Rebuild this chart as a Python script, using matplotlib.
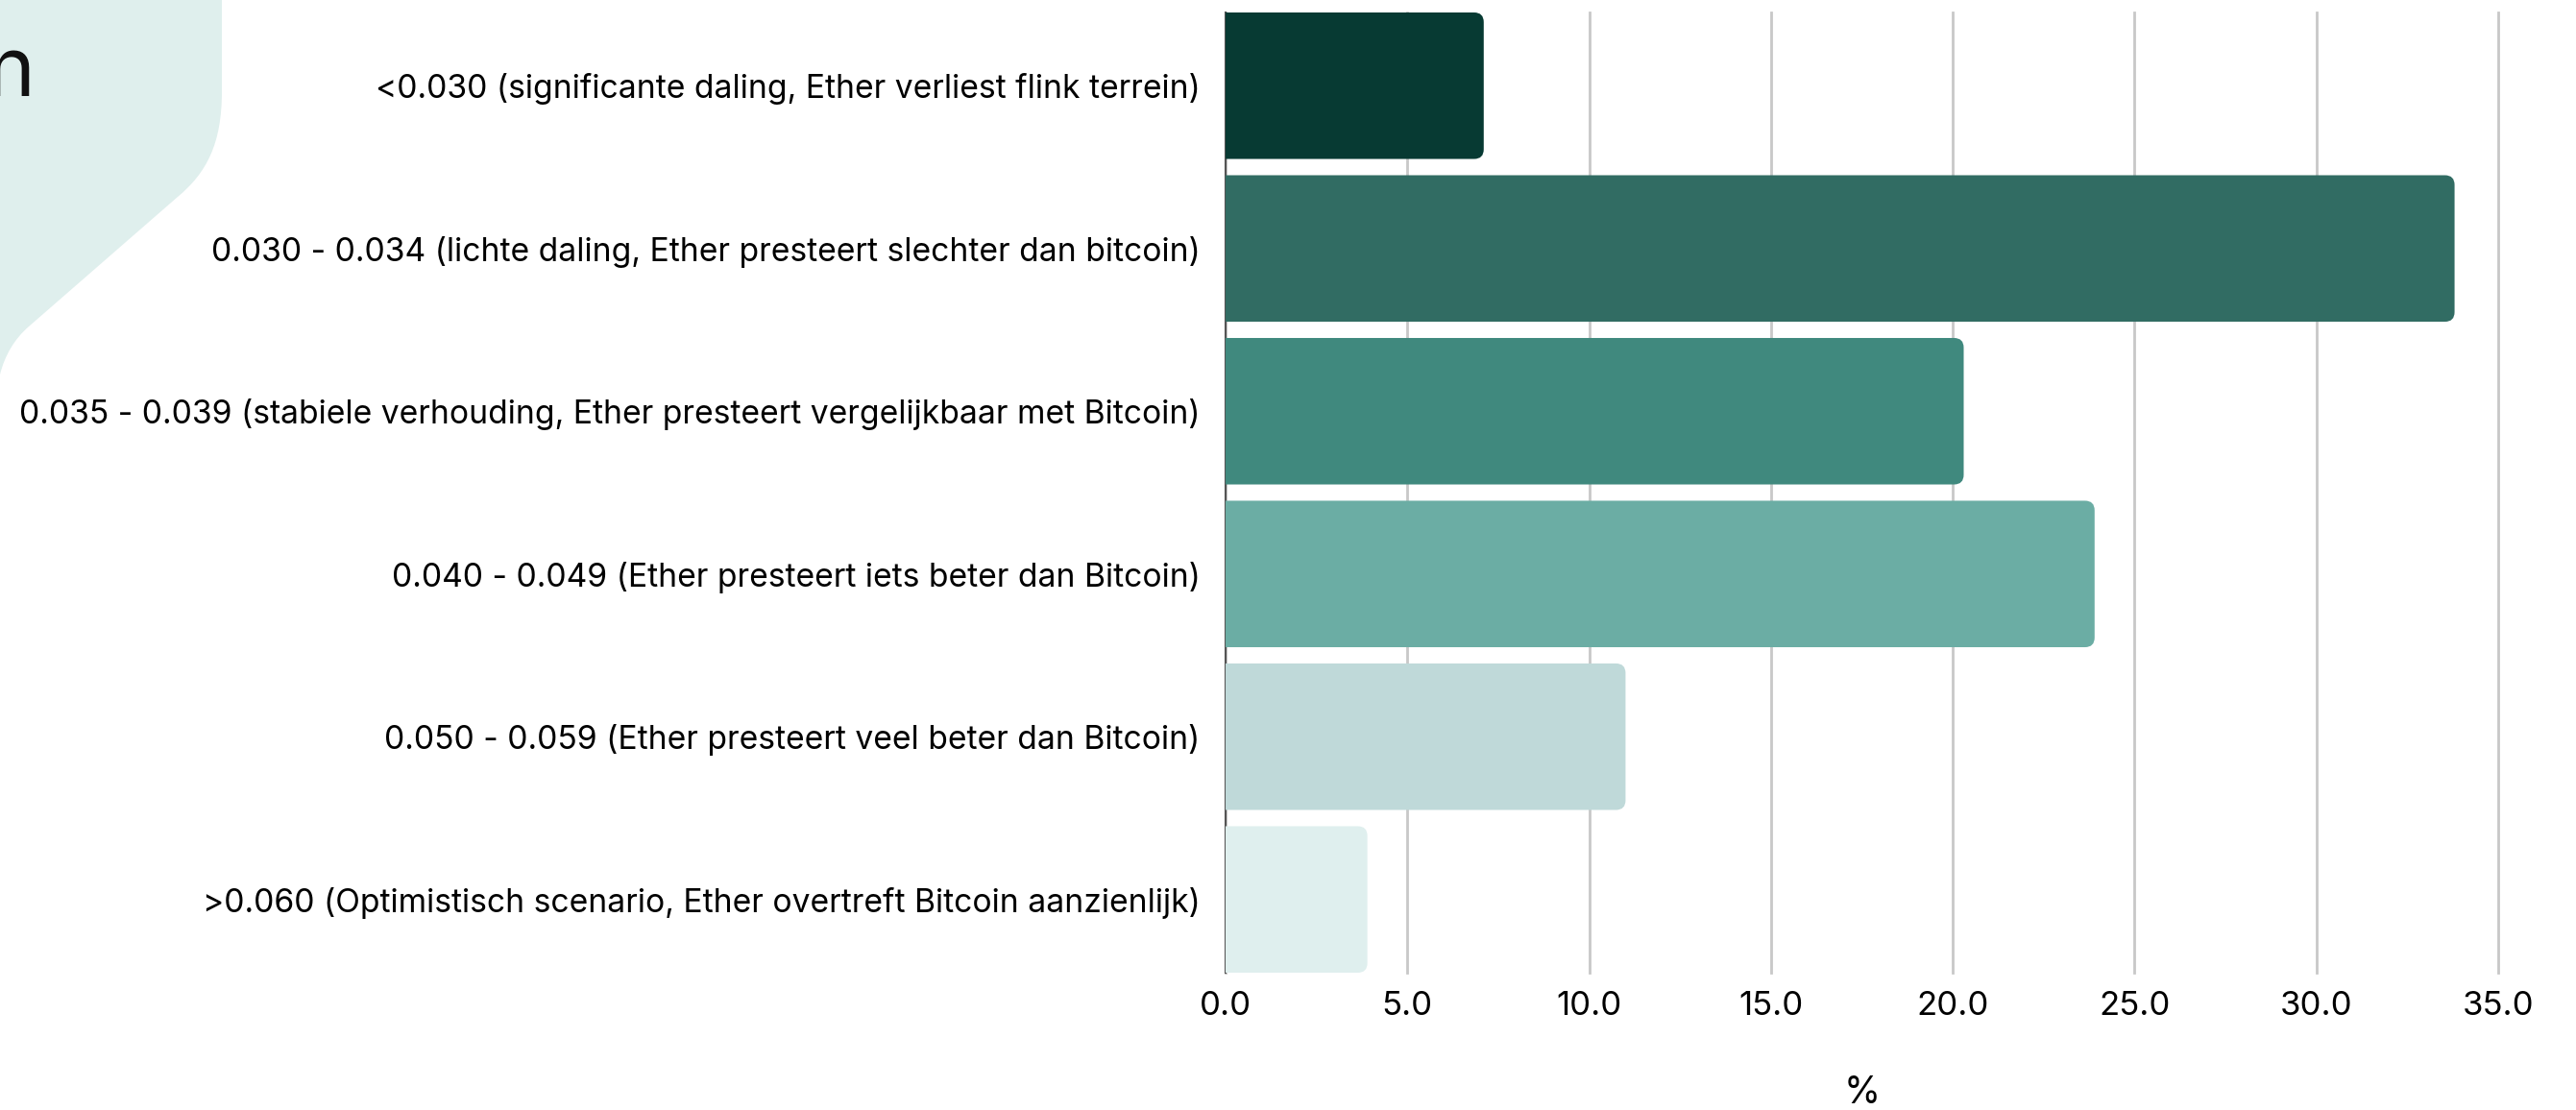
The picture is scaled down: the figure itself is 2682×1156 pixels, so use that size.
import matplotlib
matplotlib.use("Agg")
import matplotlib.pyplot as plt
from matplotlib.patches import FancyBboxPatch, PathPatch
from matplotlib.path import Path

plt.rcParams["font.family"] = ["Inter", "DejaVu Sans"]

# data
categories = [
    "<0.030 (significante daling, Ether verliest flink terrein)",
    "0.030 - 0.034 (lichte daling, Ether presteert slechter dan bitcoin)",
    "0.035 - 0.039 (stabiele verhouding, Ether presteert vergelijkbaar met Bitcoin)",
    "0.040 - 0.049 (Ether presteert iets beter dan Bitcoin)",
    "0.050 - 0.059 (Ether presteert veel beter dan Bitcoin)",
    ">0.060 (Optimistisch scenario, Ether overtreft Bitcoin aanzienlijk)",
]
values = [7.1, 33.8, 20.3, 23.9, 11.0, 3.9]
bar_colors = ["#073a33", "#316c63", "#40897e", "#6badA4", "#bfd9d9", "#dfefee"]
x_ticks = [0, 5, 10, 15, 20, 25, 30, 35]

W, H = 2682, 1156
fig = plt.figure(figsize=(W / 100, H / 100), dpi=100)

# decorative shape top-left (pixel coords, origin top-left)
pts = [(0, 0), (231, 0), (231, 95), (231, 150), (215, 180), (185, 205),
       (30, 340), (15, 353), (5, 370), (0, 390), (0, 0)]
codes = [Path.MOVETO, Path.LINETO, Path.LINETO, Path.CURVE4, Path.CURVE4,
         Path.CURVE4, Path.LINETO, Path.CURVE4, Path.CURVE4, Path.CURVE4,
         Path.CLOSEPOLY]
verts = [(x / W, 1 - y / H) for x, y in pts]
fig.patches.append(PathPatch(Path(verts, codes), transform=fig.transFigure,
                             facecolor="#dfefed", edgecolor="none", zorder=0))
# tail of the cut-off title
fig.text(36 / W, 1 - 100 / H, "n", ha="right", va="baseline", fontsize=62,
         color="#111111")

ax = fig.add_axes([1276 / W, 1 - 1013 / H, (2601 - 1276) / W, 1000 / H])
ax.set_facecolor("none")

ypos = list(range(len(categories)))
bh = 0.9
bars = ax.barh(ypos, values, height=bh, color="none")

# rounded right ends (corner radius ~10 px)
xr = 10 / (1325 / 35)
yr = 10 / (1000 / 5.9)
for rect, c in zip(bars, bar_colors):
    x0 = rect.get_x() - 1
    y0 = rect.get_y()
    w = rect.get_width() + 1
    p = FancyBboxPatch((x0, y0), w, rect.get_height(),
                       boxstyle=f"round,pad=0,rounding_size={xr}",
                       mutation_aspect=yr / xr,
                       facecolor=c, edgecolor="none", zorder=3)
    ax.add_patch(p)

ax.set_xlim(0, 35)
ax.set_ylim(len(categories) - 1 + bh / 2, -bh / 2)
ax.set_yticks(ypos)
ax.set_yticklabels(categories, fontsize=24.2)
ax.set_xticks(x_ticks)
ax.set_xticklabels([f"{t:.1f}" for t in x_ticks], fontsize=25)
ax.tick_params(axis="both", length=0)
ax.tick_params(axis="y", pad=19)
ax.tick_params(axis="x", pad=14)
ax.set_xlabel("%", fontsize=28, labelpad=40)

ax.grid(axis="x", color="#c8c8c8", linewidth=2)
ax.set_axisbelow(True)
for gl in ax.get_xgridlines():
    gl.set_clip_on(False)
for s in ["top", "right", "bottom"]:
    ax.spines[s].set_visible(False)
ax.spines["left"].set_color("#555555")
ax.spines["left"].set_linewidth(1.5)

fig.savefig("out.png", dpi=100)
